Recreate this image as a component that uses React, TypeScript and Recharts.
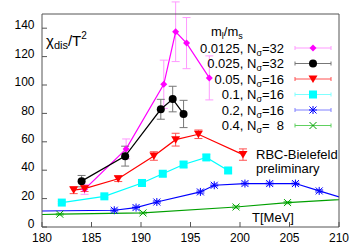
import React from 'react';
import { LineChart, Line, XAxis, YAxis, ErrorBar } from 'recharts';

// temperature ticks and chi ticks
const xTicks = [180, 185, 190, 195, 200, 205, 210];
const yTicks = [0, 20, 40, 60, 80, 100, 120, 140];

// m_l/m_s = 0.0125, Nsigma=32
const t0125 = [184.3, 188.5, 192.3, 193.5, 194.6, 196.9];
const v0125 = [26.5, 55, 100.5, 137.5, 129.5, 105];
const e0125 = [3.5, 7, 17, 21, 18, 15.5];

// 0.025, Nsigma=32
const t025 = [184.0, 188.4, 192.0, 193.2, 194.3];
const v025 = [32.3, 49.9, 82.9, 90.1, 79.6];
const e025 = [4, 7, 7, 9, 9.6];

// 0.05, Nsigma=16
const t05 = [183.2, 184.3, 187.7, 191.3, 193.5, 195.8, 200.3];
const v05 = [26, 27, 34, 50, 61.5, 65.3, 51];
const e05 = [2.5, 2, 2, 3, 4.5, 3, 4];

// 0.1, Nsigma=16
const t1 = [182.0, 186.3, 190.1, 192.2, 194.3, 196.6, 198.8];
const v1 = [17.2, 21.6, 31, 37.5, 44, 49, 39.8];
const e1 = [0.8, 1, 1.5, 2, 2, 2, 2];

// 0.2, Nsigma=16 (first and last points lie outside the plotted range)
const t2 = [176.0, 187.3, 189.5, 191.6, 196.0, 197.4, 200.5, 203.0, 205.6, 208.0, 212.0];
const v2 = [11.0, 11.8, 13.7, 17.6, 24.7, 29.4, 30.6, 30.6, 30.6, 25.4, 17.0];
const e2 = [null, 1, 1, 1, 1.2, 1, 1, 1, 1, 1, null];

// 0.4, Nsigma=8
const t4 = [175.0, 181.8, 190.2, 199.6, 204.8, 215.0];
const v4 = [8.3, 9.0, 9.9, 14.1, 17.2, 21.4];
const e4 = [null, 0.6, 0.6, 0.8, 0.8, null];

const rows = (t: number[], v: number[], e: (number | null)[]) => t.map((x, i) => ({ t: x, v: v[i], e: e[i] }));

type Shape = 'diamond' | 'circle' | 'tri' | 'square' | 'star' | 'cross';

const Marker = ({ shape, color, cx, cy }: { shape: Shape; color: string; cx: number; cy: number }) => {
    if (shape === 'circle') return <circle cx={cx} cy={cy} r={4} fill={color} />;
    if (shape === 'diamond')
        return <path d={`M${cx},${cy - 3.5}L${cx + 3.5},${cy}L${cx},${cy + 3.5}L${cx - 3.5},${cy}Z`} fill={color} />;
    if (shape === 'tri')
        return <path d={`M${cx - 4.5},${cy - 3.5}L${cx + 4.5},${cy - 3.5}L${cx},${cy + 4}Z`} fill={color} />;
    if (shape === 'square') return <rect x={cx - 4} y={cy - 4} width={8} height={8} fill={color} />;
    if (shape === 'cross')
        return (
            <path d={`M${cx - 3.5},${cy - 3.5}L${cx + 3.5},${cy + 3.5}M${cx - 3.5},${cy + 3.5}L${cx + 3.5},${cy - 3.5}`} stroke={color} strokeWidth={1} />
        );
    return (
        <path
            d={`M${cx - 3.5},${cy - 3.5}L${cx + 3.5},${cy + 3.5}M${cx - 3.5},${cy + 3.5}L${cx + 3.5},${cy - 3.5}M${cx - 4},${cy}L${cx + 4},${cy}M${cx},${cy - 4}L${cx},${cy + 4}`}
            stroke={color}
            strokeWidth={1}
        />
    );
};

const dot = (shape: Shape, color: string) => (p: any) =>
    <Marker key={`d-${p.index}`} shape={shape} color={color} cx={p.cx} cy={p.cy} />;

const series = [
    { name: '0.0125', ns: '32', data: rows(t0125, v0125, e0125), color: '#ff00ff', err: '#ff99ff', shape: 'diamond' as Shape },
    { name: '0.025', ns: '32', data: rows(t025, v025, e025), color: '#000000', err: '#777777', shape: 'circle' as Shape },
    { name: '0.05', ns: '16', data: rows(t05, v05, e05), color: '#ff0000', err: '#ff5050', shape: 'tri' as Shape },
    { name: '0.1', ns: '16', data: rows(t1, v1, e1), color: '#00ffff', err: '#80ffff', shape: 'square' as Shape },
    { name: '0.2', ns: '16', data: rows(t2, v2, e2), color: '#0000ff', err: '#8080ff', shape: 'star' as Shape },
    { name: '0.4', ns: '  8', data: rows(t4, v4, e4), color: '#00a000', err: '#60d060', shape: 'cross' as Shape },
];

const font = '"Liberation Sans", Arial, sans-serif';

const Overlay = () => (
    <svg width={360} height={252} style={{ position: 'absolute', left: 0, top: 0, pointerEvents: 'none' }} fontFamily={font}>
        <text x={46} y={46} fontSize={15} fill="#000">
            χ<tspan fontSize={11} dy={3}>dis</tspan>
            <tspan dy={-3}>/T</tspan>
            <tspan fontSize={10} dy={-7}>2</tspan>
        </text>
        <text x={211} y={36} fontSize={13} fill="#000">
            m<tspan fontSize={9} dy={3}>l</tspan>
            <tspan dy={-3}>/m</tspan>
            <tspan fontSize={9} dy={3}>s</tspan>
        </text>
        {series.map((s, i) => {
            const y = 48 + i * 15.5;
            return (
                <g key={s.name}>
                    <text x={284} y={y + 4.5} fontSize={13} textAnchor="end" fill="#000" style={{ whiteSpace: 'pre' }}>
                        {s.name}, N<tspan fontSize={9} dy={3}>σ</tspan>
                        <tspan dy={-3}>={s.ns}</tspan>
                    </text>
                    <path d={`M295,${y}L331,${y}M295,${y - 2}L295,${y + 2}M331,${y - 2}L331,${y + 2}`} stroke={s.err} strokeWidth={1} />
                    <Marker shape={s.shape} color={s.color} cx={313} cy={y} />
                </g>
            );
        })}
        <text x={256} y={159} fontSize={13} fill="#000">RBC-Bielefeld</text>
        <text x={256} y={172.5} fontSize={13} fill="#000">preliminary</text>
        <text x={252} y={221.5} fontSize={13} fill="#000">T[MeV]</text>
    </svg>
);

export default function App() {
    return (
        <div style={{ position: 'absolute', left: 0, top: 0, width: 360, height: 252, background: '#fff' }}>
            <LineChart width={360} height={252} margin={{ top: 14, right: 21, left: 8, bottom: 0 }}>
                <XAxis
                    dataKey="t"
                    type="number"
                    domain={[180, 210]}
                    ticks={xTicks}
                    allowDataOverflow
                    height={25}
                    tickSize={-5}
                    tickMargin={11}
                    stroke="#555"
                    tick={{ fill: '#000', fontSize: 12, fontFamily: font }}
                />
                <XAxis
                    xAxisId="top"
                    orientation="top"
                    mirror
                    type="number"
                    domain={[180, 210]}
                    ticks={xTicks}
                    allowDataOverflow
                    tickSize={5}
                    tick={false}
                    stroke="#555"
                />
                <YAxis
                    type="number"
                    domain={[0, 150]}
                    ticks={yTicks}
                    allowDataOverflow
                    width={34}
                    tickSize={-5}
                    tickMargin={12.5}
                    stroke="#555"
                    tick={{ fill: '#000', fontSize: 12, fontFamily: font, dy: -3 }}
                />
                <YAxis
                    yAxisId="right"
                    orientation="right"
                    mirror
                    type="number"
                    domain={[0, 150]}
                    ticks={yTicks}
                    allowDataOverflow
                    tickSize={5}
                    tick={false}
                    stroke="#555"
                />
                {series.map((s) => (
                    <Line
                        key={s.name}
                        data={s.data}
                        dataKey="v"
                        stroke={s.color}
                        strokeWidth={1.2}
                        dot={dot(s.shape, s.color)}
                        activeDot={false}
                        isAnimationActive={false}
                    >
                        <ErrorBar dataKey="e" direction="y" width={4} stroke={s.err} strokeWidth={1} />
                    </Line>
                ))}
            </LineChart>
            <Overlay />
        </div>
    );
}
